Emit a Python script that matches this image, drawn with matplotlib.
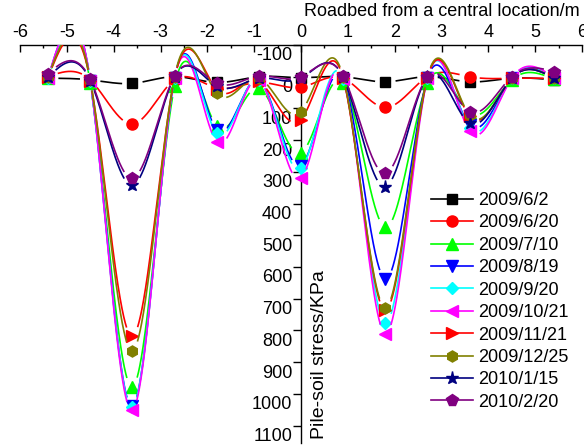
import matplotlib
matplotlib.use('Agg')
import matplotlib.pyplot as plt
import matplotlib.transforms as mtransforms
from matplotlib.lines import Line2D
import numpy as np

plt.rcParams['font.family'] = ['Liberation Sans', 'DejaVu Sans']
plt.rcParams['axes.unicode_minus'] = False

# distance from the roadbed centre (m)
x = [-5.4, -4.5, -3.6, -2.7, -1.8, -0.9, 0.0, 0.9, 1.8, 2.7, 3.6, 4.5, 5.4]

labels = ['2009/6/2', '2009/6/20', '2009/7/10', '2009/8/19', '2009/9/20',
          '2009/10/21', '2009/11/21', '2009/12/25', '2010/1/15', '2010/2/20']

# pile-soil stress (KPa)
s_0602 = [5, 10, 21, 0, 18, 0, 3, 0, 16, 0, 16, 5, 10]
s_0620 = [0, 10, 149, 10, 35, 18, 33, 5, 97, 0, 0, 5, 5]
s_0710 = [5, 20, 978, 30, 156, 36, 240, 20, 475, 20, 115, 10, 8]
s_0819 = [3, 12, 1039, 5, 168, 10, 280, 8, 638, 5, 152, 5, 3]
s_0920 = [5, 15, 1042, 5, 179, 10, 289, 8, 776, 5, 162, 5, 5]
s_1021 = [3, 12, 1052, 5, 205, 10, 320, 8, 810, 5, 171, 5, 3]
s_1121 = [2, 12, 818, 5, 40, 15, 135, 5, 736, 5, 125, 5, 5]
s_1225 = [0, 10, 864, 0, 52, 5, 110, 0, 728, 0, 121, 5, 5]
s_0115 = [2, 12, 342, 0, 30, 5, 5, 2, 347, 0, 147, 5, 5]
s_0220 = [-10, 8, 320, -2, 20, -2, 0, -2, 305, 0, 110, 0, -16]

series = [s_0602, s_0620, s_0710, s_0819, s_0920,
          s_1021, s_1121, s_1225, s_0115, s_0220]

colors = ['#000000', '#FF0000', '#00FF00', '#0000FF', '#00FFFF',
          '#FF00FF', '#FF0000', '#808000', '#000080', '#800080']
markers = ['s', 'o', '^', 'v', 'D', '<', '>', 'h', '*', 'p']
msizes = [7, 8, 8, 8, 6, 8, 8, 8, 9.5, 8.5]

yticks = list(range(-100, 1101, 100))


def natural_spline(xk, yk, xs):
    xk = np.asarray(xk, float)
    yk = np.asarray(yk, float)
    n = len(xk)
    h = np.diff(xk)
    A = np.zeros((n, n))
    b = np.zeros(n)
    A[0, 0] = 1
    A[-1, -1] = 1
    for i in range(1, n - 1):
        A[i, i - 1] = h[i - 1]
        A[i, i] = 2 * (h[i - 1] + h[i])
        A[i, i + 1] = h[i]
        b[i] = 3 * ((yk[i + 1] - yk[i]) / h[i] - (yk[i] - yk[i - 1]) / h[i - 1])
    c = np.linalg.solve(A, b)
    idx = np.clip(np.searchsorted(xk, xs) - 1, 0, n - 2)
    t = xs - xk[idx]
    hi = h[idx]
    bi = (yk[idx + 1] - yk[idx]) / hi - hi * (2 * c[idx] + c[idx + 1]) / 3
    di = (c[idx + 1] - c[idx]) / (3 * hi)
    return yk[idx] + bi * t + c[idx] * t ** 2 + di * t ** 3


fig = plt.figure(figsize=(5.84, 4.45), dpi=100)
ax = fig.add_axes([20 / 584, 2 / 445, 562 / 584, 398 / 445])
ax.set_xlim(-6, 6)
ax.set_ylim(1155, -100)

ax.spines['right'].set_visible(False)
ax.spines['bottom'].set_visible(False)
ax.spines['left'].set_position(('data', 0))
for sp in ['top', 'left']:
    ax.spines[sp].set_linewidth(1.0)

ax.xaxis.tick_top()
ax.set_xticks(range(-6, 7))
ax.set_xticks(np.arange(-5.5, 6, 1.0), minor=True)
ax.tick_params(axis='x', which='major', direction='in', length=5, width=1,
               labelsize=13, pad=3)
ax.tick_params(axis='x', which='minor', direction='in', length=2.2, width=1)

ax.set_yticks(yticks)
ax.tick_params(axis='y', which='major', direction='out', length=5.8, width=1,
               labelsize=13, pad=0.5)
shift = mtransforms.ScaledTranslation(0, -9 / 100, fig.dpi_scale_trans)
for tk in ax.yaxis.get_major_ticks():
    tk.label1.set_transform(tk.label1.get_transform() + shift)

# spline curves with a gap around each marker
xs = np.linspace(x[0], x[-1], 3000)
gap = 11
for i, (ys_data, col, mk, ms) in enumerate(zip(series, colors, markers, msizes)):
    ys = natural_spline(x, ys_data, xs)
    pts = ax.transData.transform(np.column_stack([xs, ys]))
    mpts = ax.transData.transform(np.column_stack([x, ys_data]))
    d = np.min(np.hypot(pts[:, None, 0] - mpts[None, :, 0],
                        pts[:, None, 1] - mpts[None, :, 1]), axis=1)
    ys = np.where(d < gap, np.nan, ys)
    ax.plot(xs, ys, color=col, lw=1.2, zorder=2 + 2 * i)
    ax.plot(x, ys_data, ls='none', marker=mk, ms=ms, color=col,
            mec=col, zorder=3 + 2 * i, clip_on=False)

handles = [Line2D([], [], color=c, lw=1.2, marker=m, ms=s, mec=c)
           for c, m, s in zip(colors, markers, msizes)]
ax.legend(handles, labels, loc='upper left',
          bbox_to_anchor=(431 / 584, 253 / 445), bbox_transform=fig.transFigure,
          frameon=False, fontsize=13, handlelength=2.3, handletextpad=0.3,
          labelspacing=0.3, borderpad=0, borderaxespad=0)

fig.text(580 / 584, (445 - 12) / 445, 'Roadbed from a central location/m',
         ha='right', va='center', fontsize=13)
fig.text(320 / 584, (445 - 439) / 445, 'Pile-soil stress/KPa',
         rotation=90, ha='center', va='bottom', fontsize=14)

fig.savefig('out.png', dpi=100)
